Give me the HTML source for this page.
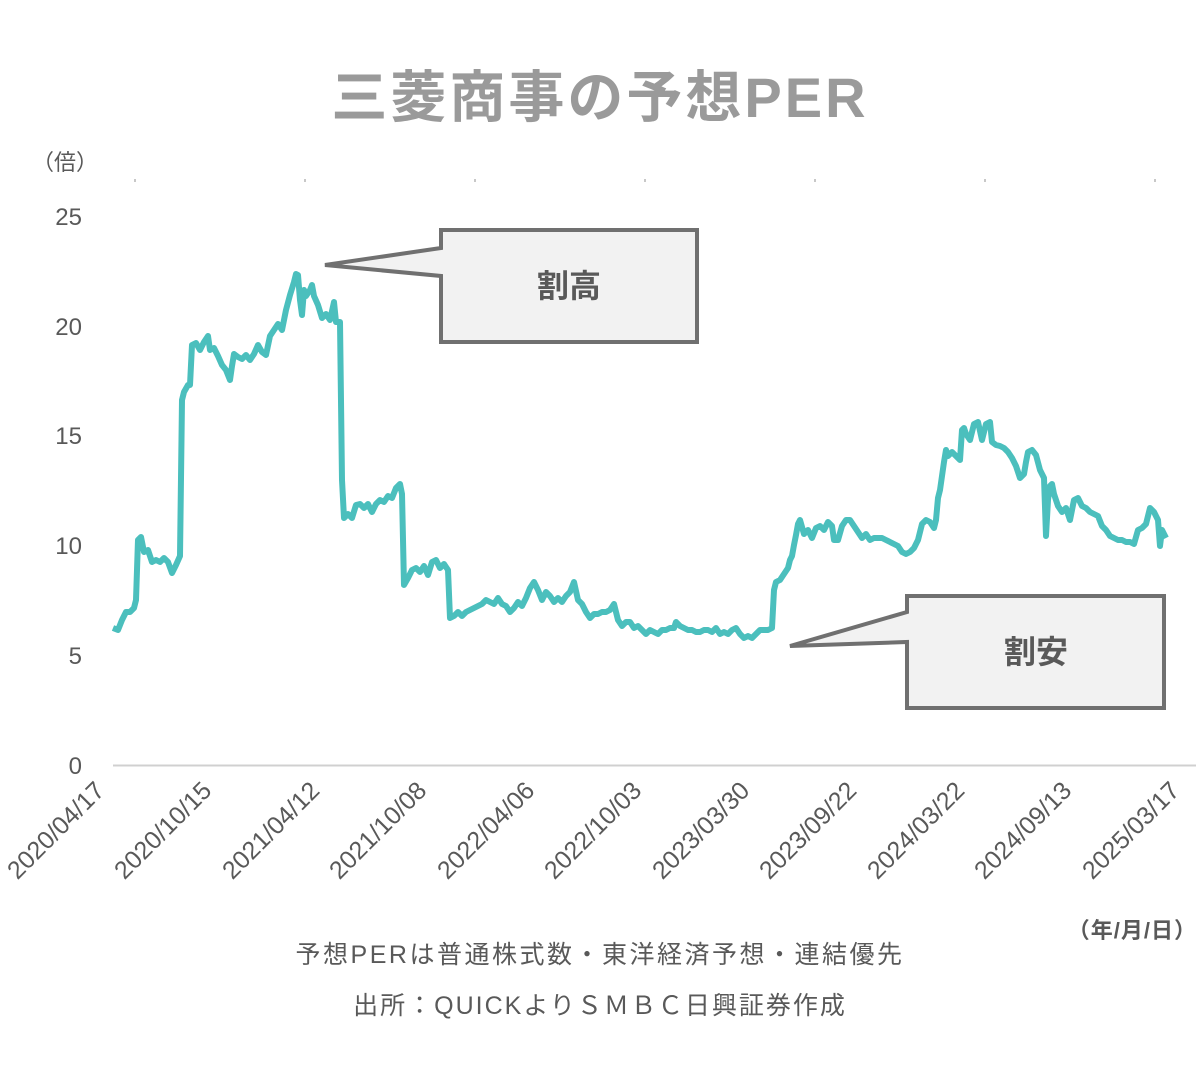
<!DOCTYPE html>
<html><head><meta charset="utf-8"><style>
body{margin:0;background:#fff;width:1200px;height:1088px;overflow:hidden}
svg{display:block}
text{font-family:"Liberation Sans","Noto Sans CJK JP",sans-serif}
</style></head><body>
<svg width="1200" height="1088" viewBox="0 0 1200 1088">
<text x="600" y="117" text-anchor="middle" font-size="56" font-weight="bold" fill="#9a9a9a" letter-spacing="3">三菱商事の予想PER</text>
<text x="65" y="170" text-anchor="middle" font-size="22" fill="#595959">（倍）</text>
<g fill="#c8c8c8"><rect x="134" y="179" width="2" height="3"/><rect x="304" y="179" width="2" height="3"/><rect x="474" y="179" width="2" height="3"/><rect x="644" y="179" width="2" height="3"/><rect x="814" y="179" width="2" height="3"/><rect x="984" y="179" width="2" height="3"/><rect x="1154" y="179" width="2" height="3"/></g>
<g font-size="24" fill="#595959" text-anchor="end">
<text x="82" y="225">25</text><text x="82" y="335">20</text><text x="82" y="444">15</text><text x="82" y="554">10</text><text x="82" y="664">5</text><text x="82" y="774">0</text>
</g>
<line x1="113" y1="765.5" x2="1196" y2="765.5" stroke="#d0d0d0" stroke-width="2"/>
<g font-size="25" fill="#595959" text-anchor="end">
<text transform="translate(106,792) rotate(-45)">2020/04/17</text>
<text transform="translate(213,792) rotate(-45)">2020/10/15</text>
<text transform="translate(321,792) rotate(-45)">2021/04/12</text>
<text transform="translate(428,792) rotate(-45)">2021/10/08</text>
<text transform="translate(536,792) rotate(-45)">2022/04/06</text>
<text transform="translate(643,792) rotate(-45)">2022/10/03</text>
<text transform="translate(751,792) rotate(-45)">2023/03/30</text>
<text transform="translate(858,792) rotate(-45)">2023/09/22</text>
<text transform="translate(966,792) rotate(-45)">2024/03/22</text>
<text transform="translate(1073,792) rotate(-45)">2024/09/13</text>
<text transform="translate(1181,792) rotate(-45)">2025/03/17</text>
</g>
<polyline fill="none" stroke="#4bbfbd" stroke-width="6" stroke-linejoin="round" points="113,628 118,630 122,620 126,612 130,612 134,608 136,600 138,540 141,537 144,552 148,550 152,562 156,560 160,562 164,558 168,562 172,573 176,565 180,556 182,400 184,392 188,385 190,385 192,345 196,343 200,350 204,342 208,336 210,350 214,348 218,356 222,365 226,370 230,380 232,366 234,354 238,357 242,359 246,355 250,360 254,354 258,345 262,352 266,355 270,336 274,330 278,324 282,330 284,320 286,310 290,295 294,282 296,274 298,275 300,300 302,315 304,290 306,296 310,290 312,285 314,296 318,305 322,318 326,314 330,320 334,302 336,322 340,322 342,480 344,518 348,514 352,518 356,505 360,504 364,508 368,504 372,512 376,504 380,500 384,502 388,496 392,498 396,488 400,484 402,494 404,585 408,578 412,570 416,568 420,572 424,566 428,575 432,562 436,560 440,568 444,564 448,570 450,618 454,616 458,612 462,616 466,612 470,610 474,608 478,606 482,604 486,600 490,602 494,604 498,598 502,604 506,606 510,612 514,608 518,602 522,606 526,598 530,588 534,582 538,590 542,600 546,592 550,596 554,602 558,598 562,602 566,596 570,592 574,582 578,600 582,604 586,612 590,618 594,614 598,614 602,612 606,612 610,610 614,604 618,620 622,626 626,622 630,622 634,628 638,626 642,630 646,634 650,630 654,632 658,634 662,630 666,630 670,628 674,628 676,622 680,626 684,628 688,630 692,630 696,632 700,632 704,630 708,630 712,632 716,628 720,634 724,632 728,634 732,630 736,628 740,634 744,638 748,636 752,638 756,634 760,630 764,630 768,630 772,628 774,590 776,582 780,580 784,574 788,568 790,560 792,556 794,545 796,535 798,524 800,520 804,534 808,530 812,538 816,528 820,526 824,530 828,522 832,526 834,540 838,540 842,526 846,520 850,520 854,526 858,532 862,538 866,534 870,540 874,538 878,538 882,538 886,540 890,542 894,544 898,546 902,552 906,554 910,552 914,548 918,540 922,524 926,520 930,522 934,528 936,520 938,498 940,490 944,462 946,450 948,456 952,452 956,456 960,460 962,430 964,428 966,434 970,440 974,424 978,422 982,440 986,424 990,422 992,442 996,445 1000,446 1004,448 1008,452 1012,458 1016,466 1020,478 1024,474 1026,462 1028,452 1032,450 1036,455 1040,470 1044,478 1046,536 1048,500 1050,486 1052,484 1054,494 1058,506 1062,512 1066,508 1070,520 1074,500 1078,498 1082,506 1086,508 1090,512 1094,514 1098,516 1102,526 1106,530 1110,536 1114,538 1118,540 1122,540 1126,542 1130,542 1134,544 1138,530 1142,528 1146,524 1150,508 1154,512 1158,520 1160,546 1162,530 1164,534 1166,538"/>
<path d="M441,230 H697 V342 H441 V276 L325,265 L441,248 Z" fill="#f2f2f2" stroke="#707070" stroke-width="4"/>
<text x="569" y="297" text-anchor="middle" font-size="32" font-weight="bold" fill="#595959">割高</text>
<path d="M907,596 H1164 V708 H907 V642 L790,646 L907,612 Z" fill="#f2f2f2" stroke="#707070" stroke-width="4"/>
<text x="1036" y="663" text-anchor="middle" font-size="32" font-weight="bold" fill="#595959">割安</text>
<text x="1197" y="938" text-anchor="end" font-size="22" font-weight="bold" fill="#595959" letter-spacing="1">（年/月/日）</text>
<text x="600" y="963" text-anchor="middle" font-size="25" fill="#595959" letter-spacing="2.5">予想PERは普通株式数・東洋経済予想・連結優先</text>
<text x="600" y="1014" text-anchor="middle" font-size="25" fill="#595959" letter-spacing="2">出所：QUICKよりＳＭＢＣ日興証券作成</text>
</svg>
</body></html>
